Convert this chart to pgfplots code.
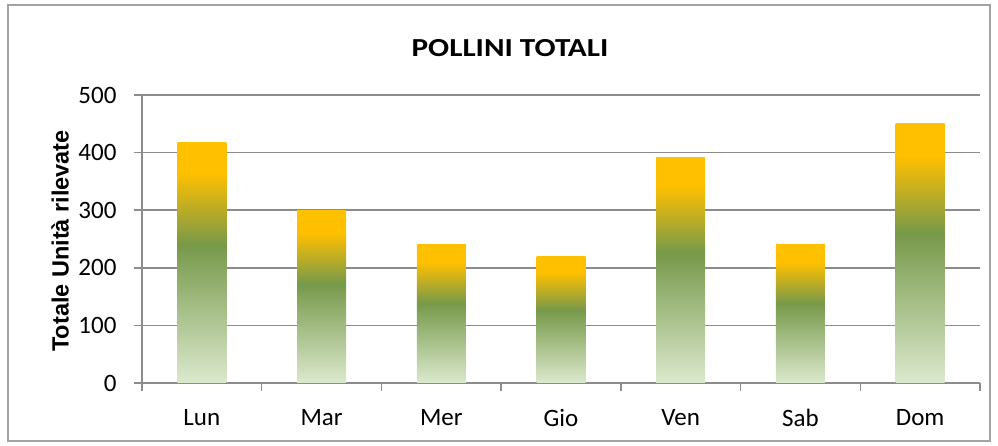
\documentclass[border=0pt]{standalone}
\usepackage{pgfplots}
\pgfplotsset{compat=1.18}
\usepackage{fontspec}
\setmainfont{Carlito}
\newfontfamily\arialfont{Liberation Sans}
\definecolor{cLow}{HTML}{DCE9CE}
\definecolor{cGreen}{HTML}{77994A}
\definecolor{cTop}{HTML}{FFC000}
\definecolor{gridc}{HTML}{8C8C8C}
\pgfdeclareverticalshading{pollen}{100bp}{color(0bp)=(cLow); color(25bp)=(cLow); color(53.75bp)=(cGreen); color(68.75bp)=(cTop); color(75bp)=(cTop); color(100bp)=(cTop)}
\pgfplotsset{pbar/.style={ybar, bar width=49pt, draw=none, shading=pollen}}
\begin{document}
\begin{tikzpicture}[x=1pt,y=1pt]
\path[use as bounding box] (0,0) rectangle (998,446);
\draw[gridc!80, line width=1.5pt] (8,5) rectangle (990,441);
\node[font=\fontsize{26}{30}\selectfont\bfseries, xscale=1.2] at (510,398) {POLLINI TOTALI};
\node[font=\arialfont\fontsize{23.5}{28}\selectfont\bfseries, rotate=90] at (60,205) {Totale Unità rilevate};
\begin{axis}[
  at={(142pt,63pt)}, anchor=south west,
  scale only axis, width=838pt, height=288pt,
  xmin=-0.5, xmax=6.5, ymin=0, ymax=500,
  ytick={0,100,200,300,400,500},
  xtick={0,1,2,3,4,5,6},
  xticklabels={Lun,Mar,Mer,Gio,Ven,Sab,Dom},
  minor xtick={-0.5,0.5,1.5,2.5,3.5,4.5,5.5,6.5},
  axis x line*=bottom, axis y line*=left,
  axis line style={gridc, line width=1.5pt, -},
  tick align=outside,
  major tick length=8pt, minor tick length=8pt,
  x tick style={draw=none},
  minor x tick style={draw=gridc, line width=1.5pt},
  y tick style={draw=gridc, line width=1.5pt},
  ymajorgrids, grid style={gridc, line width=1.5pt},
  ticklabel style={font=\fontsize{25}{30}\selectfont},
  xticklabel style={yshift=-15pt},
  yticklabel style={xshift=-14pt},
  /pgf/number format/assume math mode=true,
]
\addplot[pbar] coordinates {(0,417)};
\addplot[pbar] coordinates {(1,299)};
\addplot[pbar] coordinates {(2,240)};
\addplot[pbar] coordinates {(3,220)};
\addplot[pbar] coordinates {(4,392)};
\addplot[pbar] coordinates {(5,240)};
\addplot[pbar] coordinates {(6,451)};
\end{axis}
\end{tikzpicture}
\end{document}
